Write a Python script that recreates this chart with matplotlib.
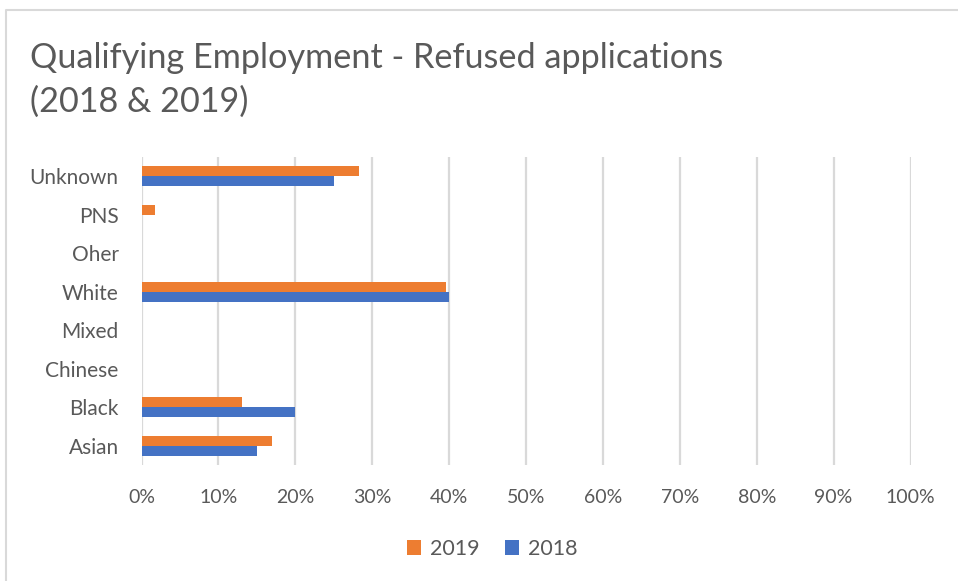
import matplotlib.pyplot as plt
import numpy as np
from matplotlib.lines import Line2D
from matplotlib.ticker import PercentFormatter

# data (fractions)
categories = ["Asian", "Black", "Chinese", "Mixed", "White", "Oher", "PNS", "Unknown"]
vals_2019 = [0.17, 0.131, 0.0, 0.0, 0.396, 0.0, 0.018, 0.283]
vals_2018 = [0.15, 0.20, 0.0, 0.0, 0.40, 0.0, 0.0, 0.25]
xticks = np.linspace(0, 1, 11)

plt.rcParams['font.family'] = ['Lato', 'DejaVu Sans']

fig = plt.figure(figsize=(9.58, 5.81), dpi=100)
W, H = 958, 581
# chart border: only top and left edges visible in the crop
fig.lines.append(Line2D([6 / W, 6 / W, 1], [0, 1 - 10 / H, 1 - 10 / H], transform=fig.transFigure,
                        color='#d9d9d9', linewidth=1.5))

ax = fig.add_axes([141.5 / W, 1 - 465 / H, (910.5 - 141.5) / W, (465 - 157) / H])
y = np.arange(len(categories))
h = 0.26
ax.barh(y + h / 2, vals_2019, height=h, color='#ED7D31', label='2019', zorder=3)
ax.barh(y - h / 2, vals_2018, height=h, color='#4472C4', label='2018', zorder=3)

ax.set_xlim(0, 1)
ax.set_ylim(-0.5, len(categories) - 0.5)
ax.set_xticks(xticks)
ax.xaxis.set_major_formatter(PercentFormatter(1.0, decimals=0))
ax.set_yticks(y)
ax.set_yticklabels(categories)
ax.grid(axis='x', color='#d9d9d9', linewidth=1.6, zorder=0)
for s in ax.spines.values():
    s.set_visible(False)
ax.tick_params(length=0, colors='#595959')
ax.tick_params(axis='x', pad=17, labelsize=14)
ax.tick_params(axis='y', pad=16.5, labelsize=15)

fig.text(30 / W, 1 - 58 / H, "Qualifying Employment - Refused applications",
         fontsize=24.7, color='#595959', va='center', ha='left')
fig.text(30 / W, 1 - 102 / H, "(2018 & 2019)",
         fontsize=24.7, color='#595959', va='center', ha='left')

ax.legend(loc='center', bbox_to_anchor=(492 / W, 1 - 549 / H), bbox_transform=fig.transFigure,
          ncol=2, frameon=False, fontsize=15.5, labelcolor='#595959',
          handlelength=0.65, handleheight=0.65, handletextpad=0.4, columnspacing=1.2)

fig.savefig('out.png', dpi=100)
